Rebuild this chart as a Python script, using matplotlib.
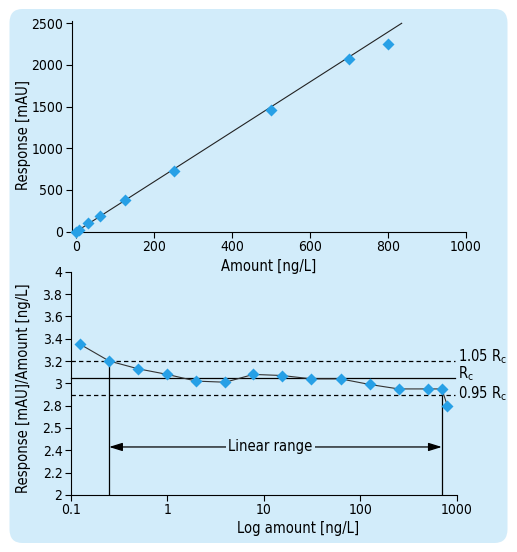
import matplotlib.pyplot as plt
from matplotlib.patches import FancyBboxPatch
from matplotlib.ticker import FixedLocator, NullLocator

plt.rcParams['font.family'] = ['DejaVu Sans']
plt.rcParams['font.stretch'] = 'condensed'
plt.rcParams['font.size'] = 10

# Calibration data (top panel)
amount = [0, 8, 31.25, 62.5, 125, 250, 500, 700, 800]
response = [0, 25, 100, 188, 380, 728, 1462, 2068, 2250]
fit_x = [0, 835]
fit_y = [0, 2500]

# Response factor data (bottom panel)
log_amount = [0.125, 0.25, 0.5, 1, 2, 4, 7.8, 15.6, 31.25, 62.5, 125, 250, 500, 700, 800]
ratio = [3.35, 3.20, 3.13, 3.08, 3.02, 3.01, 3.08, 3.07, 3.04, 3.04, 2.99, 2.95, 2.95, 2.95, 2.80]
rc = 3.05
lin_low, lin_high = 0.25, 700

bottom_ticks = [2, 2.2, 2.4, 2.6, 2.8, 3, 3.2, 3.4, 3.6, 3.8, 4]
bottom_ticklabels = ["2", "2.2", "2.4", "2.5", "2.8", "3", "3.2", "3.4", "3.6", "3.8", "4"]

bg = "#d2ecfa"
marker_c = "#27a0e6"

fig = plt.figure(figsize=(5.17, 5.52), dpi=100)
fig.patch.set_facecolor("white")
W, H = 517, 552
panel = FancyBboxPatch((9.5 / W, 9 / H), 498 / W, 534 / H,
                       boxstyle="round,pad=0,rounding_size=0.025",
                       transform=fig.transFigure, facecolor=bg, edgecolor="none", zorder=-10)
fig.patches.append(panel)

# ---- top panel
ax1 = fig.add_axes([0.1387, 0.5803, 0.7627, 0.3822])
ax1.set_facecolor("none")
ax1.plot(fit_x, fit_y, color="#222222", lw=0.8, zorder=2)
ax1.plot(amount, response, "D", color=marker_c, ms=6.5, mec="none", zorder=3, clip_on=False)
ax1.set_xlim(-11, 1000)
ax1.set_ylim(0, 2531)
ax1.set_xticks([0, 200, 400, 600, 800, 1000])
ax1.set_yticks([0, 500, 1000, 1500, 2000, 2500])
for s in ["top", "right"]:
    ax1.spines[s].set_visible(False)
ax1.tick_params(direction="out", length=4, width=0.8, labelsize=10, pad=2)
ax1.set_xlabel("Amount [ng/L]", fontsize=10.5, va="center")
ax1.xaxis.set_label_coords(0.5, (231.7 - 266.7) / 211)
ax1.set_ylabel("Response [mAU]", fontsize=10.5, va="center")
ax1.yaxis.set_label_coords((23 - 71.7) / 394.3, 0.458)

# ---- bottom panel
ax2 = fig.add_axes([0.1368, 0.1033, 0.7466, 0.4045])
ax2.set_facecolor("none")
ax2.set_xscale("log")
ax2.set_xlim(0.1, 1000)
ax2.set_ylim(2, 4)
ax2.xaxis.set_major_locator(FixedLocator([0.1, 1, 10, 100, 1000]))
ax2.xaxis.set_minor_locator(NullLocator())
ax2.set_xticklabels(["0.1", "1", "10", "100", "1000"])
ax2.set_yticks(bottom_ticks)
ax2.set_yticklabels(bottom_ticklabels)
for s in ["top", "right"]:
    ax2.spines[s].set_visible(False)
ax2.tick_params(direction="out", length=4, width=0.8, labelsize=10, pad=2)

ax2.plot(log_amount, ratio, "-", color="#333333", lw=0.8, zorder=3)
ax2.plot(log_amount, ratio, "D", color=marker_c, ms=6.5, mec="none", zorder=4)

xmax_lines = 950
ax2.plot([0.1, xmax_lines], [rc, rc], color="black", lw=0.9, clip_on=False, zorder=2)
ax2.plot([0.1, xmax_lines], [1.05 * rc, 1.05 * rc], color="black", lw=0.9, ls=(0, (3.5, 2.5)), clip_on=False, zorder=2)
ax2.plot([0.1, xmax_lines], [0.95 * rc, 0.95 * rc], color="black", lw=0.9, ls=(0, (3.5, 2.5)), clip_on=False, zorder=2)
ax2.text(1030, 3.24, r"1.05 R$_\mathregular{c}$", va="center", ha="left", fontsize=10.5, clip_on=False)
ax2.text(1030, 3.085, r"R$_\mathregular{c}$", va="center", ha="left", fontsize=10.5, clip_on=False)
ax2.text(1030, 2.905, r"0.95 R$_\mathregular{c}$", va="center", ha="left", fontsize=10.5, clip_on=False)

ax2.plot([lin_low, lin_low], [2, ratio[1]], color="black", lw=0.9, zorder=2)
ax2.plot([lin_high, lin_high], [2, ratio[13]], color="black", lw=0.9, zorder=2)

ax2.annotate("", xy=(lin_low, 2.43), xytext=(lin_high, 2.43),
             arrowprops=dict(arrowstyle="<|-|>,head_length=0.8,head_width=0.25",
                             color="black", lw=0.9, shrinkA=0, shrinkB=0))
ax2.text(11.8, 2.43, "Linear range", ha="center", va="center", fontsize=10.5,
         bbox=dict(facecolor=bg, edgecolor="none", pad=1.5))

ax2.set_ylabel("Response [mAU]/Amount [ng/L]", fontsize=10.5, va="center")
ax2.yaxis.set_label_coords((23 - 70.7) / 386, 0.479)
fig.text(298 / W, 1 - 528 / H, "Log amount [ng/L]", ha="center", va="center", fontsize=10.5)

fig.savefig("out.png", dpi=100, facecolor="white")
